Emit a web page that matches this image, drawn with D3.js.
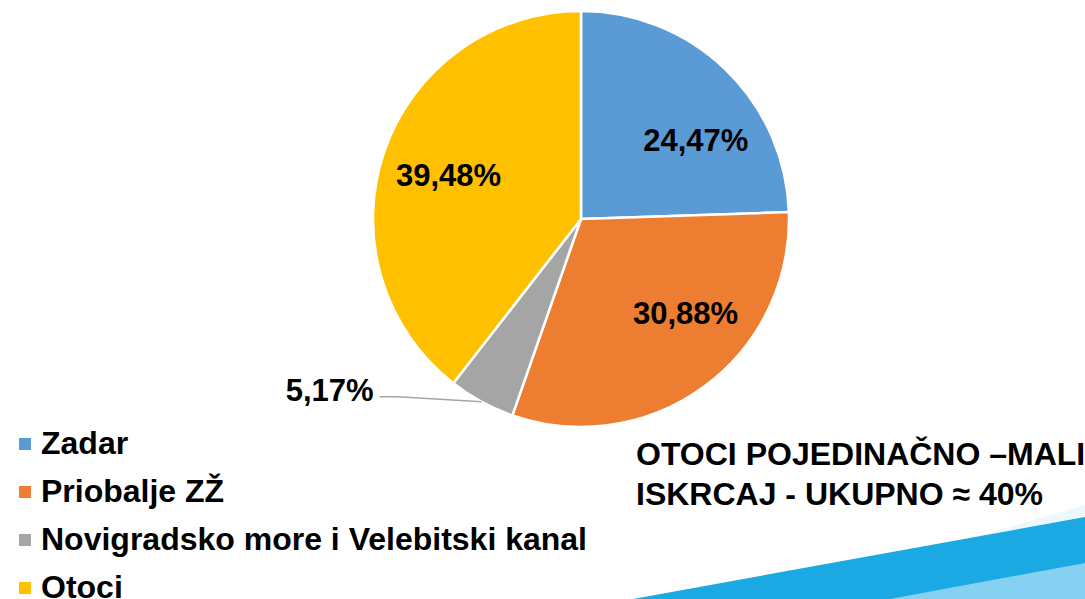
<!doctype html>
<html lang="hr">
<head>
<meta charset="utf-8">
<title>iskrcaj po područjima</title>
<script src="https://d3js.org/d3.v7.min.js"></script>
<style>
  body { margin: 0; background: #fff; }
  text { font-family: "Liberation Sans", Arial, sans-serif; font-weight: bold; fill: #000; }
</style>
</head>
<body>
<div id="chart"></div>
<script>
// data
var categories = ["Zadar", "Priobalje ZŽ", "Novigradsko more i Velebitski kanal", "Otoci"];
var shares = [24.47, 30.88, 5.17, 39.48];
var colours = ["#5b9bd5", "#ed7d31", "#a5a5a5", "#ffc000"];
var noteLines = ["OTOCI POJEDINAČNO \u2013MALI", "ISKRCAJ - UKUPNO \u2248 40%"];

// excel "best fit" pushes the inside labels a bit towards the horizontal
var labelTurn = [11, -12, 0, 0];

var W = 1085, H = 599;
var cx = 581, cy = 219, R = 208;

var svg = d3.select("#chart").append("svg")
  .attr("width", W).attr("height", H);

// blue swoosh in the corner of the slide
var deco = svg.append("g");
deco.append("path")
  .attr("d", "M760,599 L1085,505 L1085,520 L880,560 L790,599 Z")
  .attr("fill", "#e6f5fc").attr("opacity", 0.7);
deco.append("path")
  .attr("d", "M633,599 L1085,517 L1085,599 Z")
  .attr("fill", "#1aa9e3");
deco.append("path")
  .attr("d", "M890,599 L1085,563 L1085,599 Z")
  .attr("fill", "#86d0f1");

var pieData = categories.map(function(c, i) {
  return { name: c, value: shares[i], colour: colours[i], turn: labelTurn[i] };
});

var pie = d3.pie().sort(null).value(function(d) { return d.value; });
var arcs = pie(pieData);
var arc = d3.arc().innerRadius(0).outerRadius(R);

var g = svg.append("g").attr("transform", "translate(" + cx + "," + cy + ")");

g.selectAll("path.slice").data(arcs).enter().append("path")
  .attr("class", "slice")
  .attr("d", arc)
  .attr("fill", function(d) { return d.data.colour; })
  .attr("stroke", "#fff")
  .attr("stroke-width", 2.5);

function fmt(v) { return v.toFixed(2).replace(".", ",") + "%"; }

// inside labels for the big slices
g.selectAll("text.lbl").data(arcs.filter(function(d) { return d.data.value > 10; }))
  .enter().append("text")
  .attr("class", "lbl")
  .attr("transform", function(d) {
    var a = (d.startAngle + d.endAngle) / 2 + d.data.turn * Math.PI / 180;
    var r = 140;
    return "translate(" + (Math.sin(a) * r) + "," + (-Math.cos(a) * r + 12) + ")";
  })
  .attr("text-anchor", "middle")
  .style("font-size", "31px")
  .text(function(d) { return fmt(d.data.value); });

// small slice gets a leader line
arcs.filter(function(d) { return d.data.value <= 10; }).forEach(function(d) {
  var mid = (d.startAngle + d.endAngle) / 2;
  var p0 = [Math.sin(mid) * R, -Math.cos(mid) * R];
  var p1 = [p0[0] - 84, p0[1] - 5];
  var p2 = [p1[0] - 18, p1[1]];
  g.append("polyline")
    .attr("points", [p0, p1, p2].map(function(p) { return p.join(","); }).join(" "))
    .attr("fill", "none")
    .attr("stroke", "#a5a5a5")
    .attr("stroke-width", 1.5);
  g.append("text")
    .attr("x", p2[0] - 6).attr("y", p2[1] + 4)
    .attr("text-anchor", "end")
    .style("font-size", "31px")
    .text(fmt(d.data.value));
});

// legend
var legend = svg.append("g").attr("transform", "translate(19,438)");
var row = legend.selectAll("g").data(pieData).enter().append("g")
  .attr("transform", function(d, i) { return "translate(0," + (i * 48) + ")"; });
row.append("rect").attr("width", 12).attr("height", 12)
  .attr("fill", function(d) { return d.colour; });
row.append("text").attr("x", 22).attr("y", 16)
  .style("font-size", "32px")
  .text(function(d) { return d.name; });

// note on the right
svg.append("g").selectAll("text").data(noteLines).enter().append("text")
  .attr("x", 636)
  .attr("y", function(d, i) { return 465 + i * 40; })
  .style("font-size", "32px")
  .text(function(d) { return d; });
</script>
</body>
</html>
